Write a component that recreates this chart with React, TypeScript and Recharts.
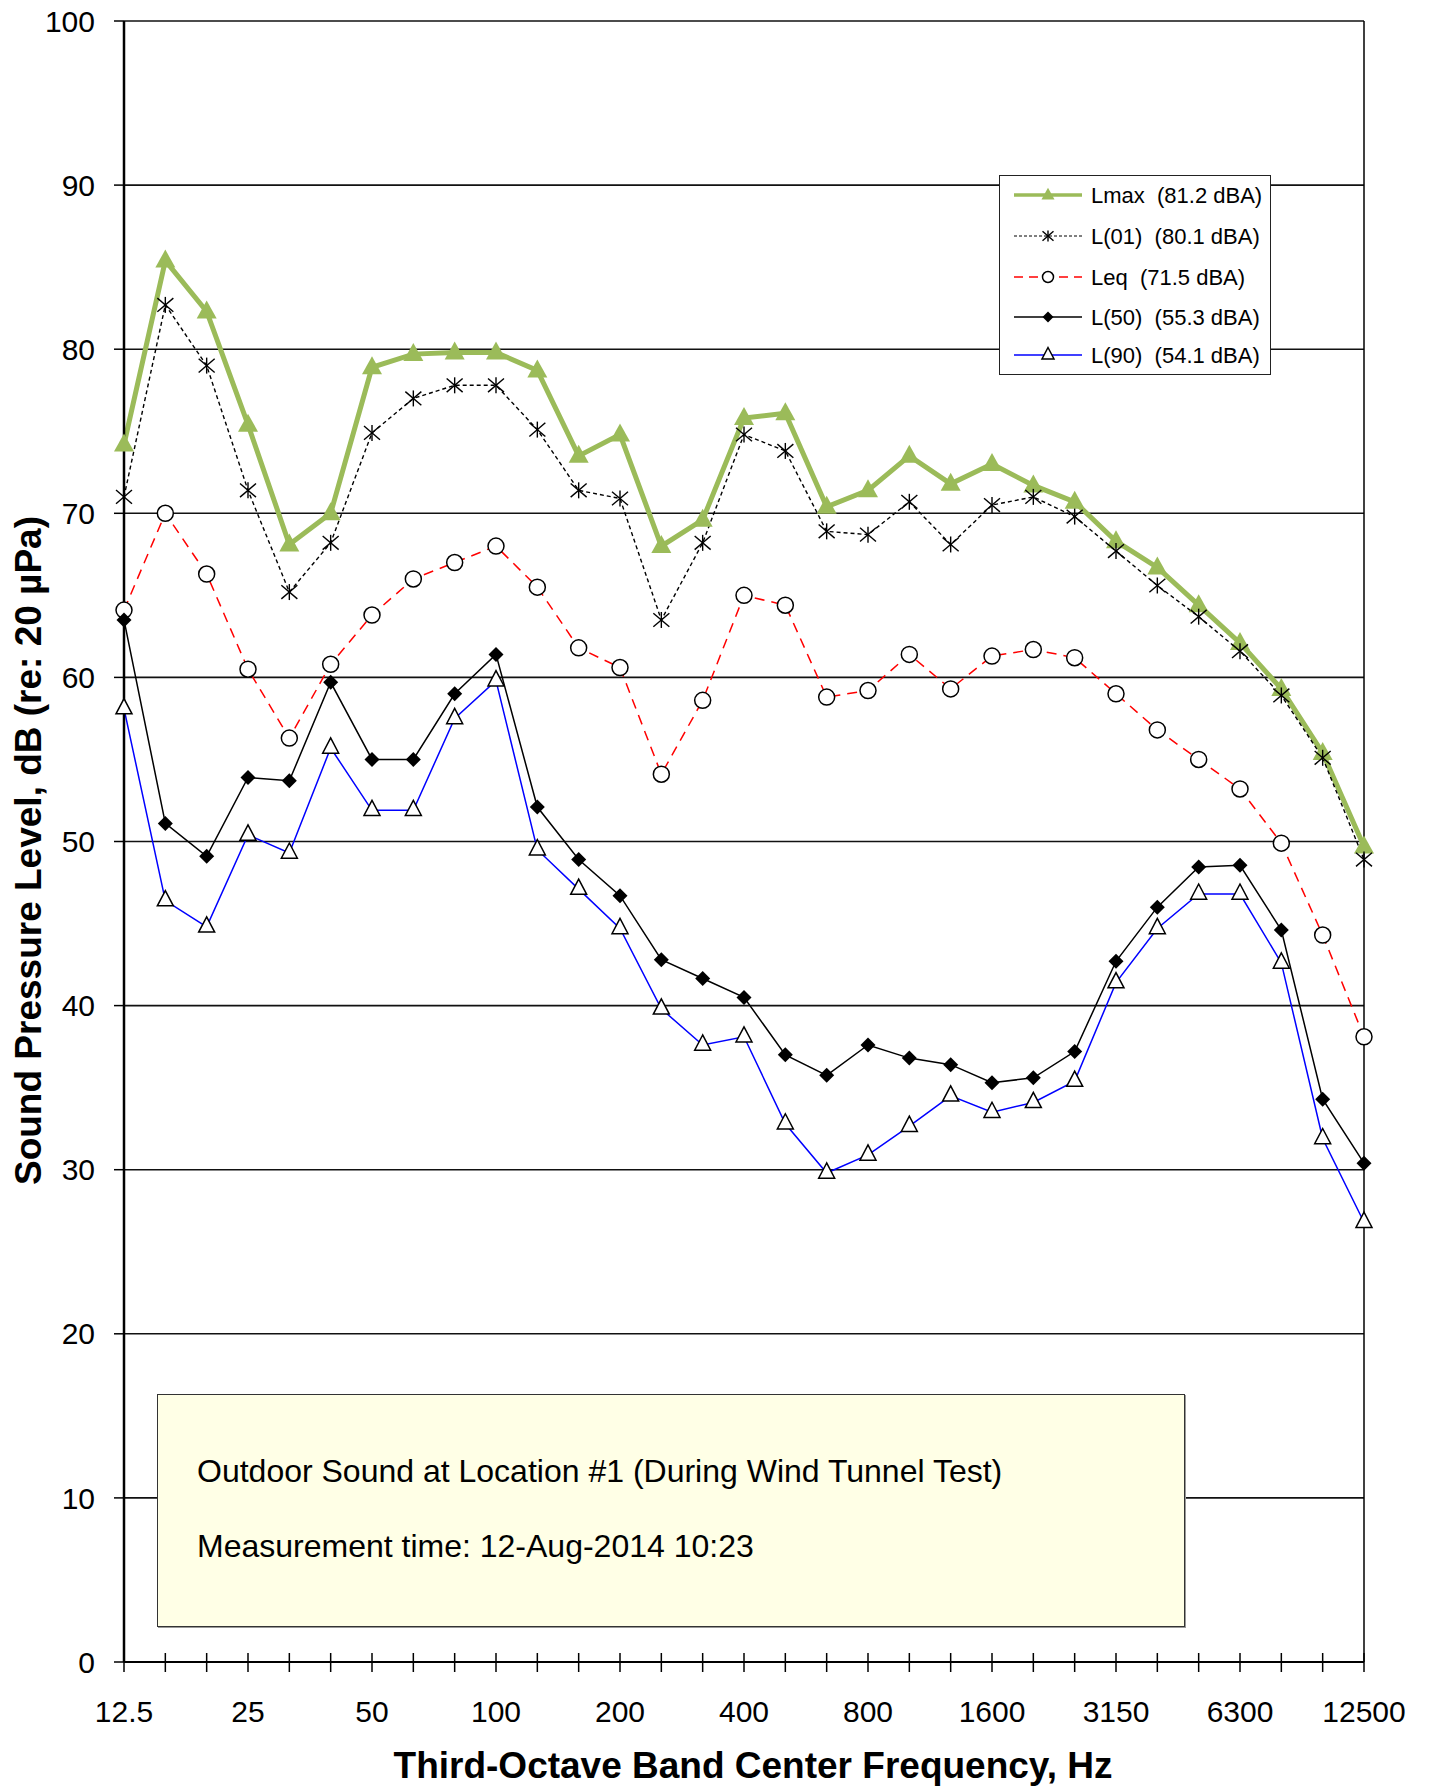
import React from "react";
import { LineChart, Line, XAxis, YAxis, CartesianGrid, ReferenceLine, Legend } from "recharts";

const FONT = '"Liberation Sans", Arial, Helvetica, sans-serif';

const frequencies = ["12.5", "16", "20", "25", "31.5", "40", "50", "63", "80", "100", "125", "160", "200", "250", "315", "400", "500", "630", "800", "1000", "1250", "1600", "2000", "2500", "3150", "4000", "5000", "6300", "8000", "10000", "12500"];
const xTickLabels = ["12.5", "25", "50", "100", "200", "400", "800", "1600", "3150", "6300", "12500"];
const yTicks = [0, 10, 20, 30, 40, 50, 60, 70, 80, 90, 100];

const lmax = [74.2, 85.4, 82.3, 75.4, 68.1, 70.0, 78.9, 79.7, 79.8, 79.8, 78.7, 73.5, 74.8, 68.0, 69.6, 75.8, 76.1, 70.4, 71.4, 73.5, 71.8, 73.0, 71.7, 70.7, 68.3, 66.7, 64.4, 62.1, 59.3, 55.4, 49.7];
const l01 = [71.0, 82.7, 79.0, 71.4, 65.2, 68.2, 74.9, 77.0, 77.8, 77.8, 75.1, 71.4, 70.9, 63.5, 68.2, 74.8, 73.8, 68.9, 68.7, 70.7, 68.1, 70.5, 71.0, 69.8, 67.7, 65.6, 63.7, 61.6, 58.9, 55.1, 48.9];
const leq = [64.1, 70.0, 66.3, 60.5, 56.3, 60.8, 63.8, 66.0, 67.0, 68.0, 65.5, 61.8, 60.6, 54.1, 58.6, 65.0, 64.4, 58.8, 59.2, 61.4, 59.3, 61.3, 61.7, 61.2, 59.0, 56.8, 55.0, 53.2, 49.9, 44.3, 38.1];
const l50 = [63.5, 51.1, 49.1, 53.9, 53.7, 59.7, 55.0, 55.0, 59.0, 61.4, 52.1, 48.9, 46.7, 42.8, 41.65, 40.5, 37.0, 35.75, 37.6, 36.8, 36.4, 35.3, 35.6, 37.2, 42.7, 46.0, 48.45, 48.55, 44.6, 34.3, 30.4];
const l90 = [58.1, 46.4, 44.8, 50.4, 49.3, 55.7, 51.9, 51.9, 57.5, 59.8, 49.5, 47.1, 44.7, 39.8, 37.6, 38.1, 32.8, 29.8, 30.9, 32.65, 34.5, 33.5, 34.1, 35.4, 41.4, 44.7, 46.8, 46.8, 42.6, 31.9, 26.8];

const legendLabels = [
  "Lmax  (81.2 dBA)",
  "L(01)  (80.1 dBA)",
  "Leq  (71.5 dBA)",
  "L(50)  (55.3 dBA)",
  "L(90)  (54.1 dBA)",
];
const noteLines = [
  "Outdoor Sound at Location #1 (During Wind Tunnel Test)",
  "Measurement time: 12-Aug-2014 10:23",
];
const yAxisTitle = "Sound Pressure Level, dB (re: 20 µPa)";
const xAxisTitle = "Third-Octave Band Center Frequency, Hz";

const GREEN = "#9BBB59";
const RED = "#FF0000";
const BLUE = "#0000FF";

const data = frequencies.map((f, i) => ({
  f,
  lmax: lmax[i],
  l01: l01[i],
  leq: leq[i],
  l50: l50[i],
  l90: l90[i],
}));

// marker shapes
const triFilled = (cx: number, cy: number, s: number, key?: string) => (
  <polygon key={key} points={`${cx},${cy - 1.1 * s} ${cx - s},${cy + 0.7 * s} ${cx + s},${cy + 0.7 * s}`} fill={GREEN} />
);
const asterisk = (cx: number, cy: number, s: number, key?: string) => (
  <g key={key} stroke="#000" strokeWidth={1.4}>
    <line x1={cx - s} y1={cy - s * 0.85} x2={cx + s} y2={cy + s * 0.85} />
    <line x1={cx - s} y1={cy + s * 0.85} x2={cx + s} y2={cy - s * 0.85} />
    <line x1={cx} y1={cy - s} x2={cx} y2={cy + s} />
  </g>
);
const circle = (cx: number, cy: number, r: number, key?: string) => (
  <circle key={key} cx={cx} cy={cy} r={r} fill="#fff" stroke="#000" strokeWidth={1.5} />
);
const diamond = (cx: number, cy: number, s: number, key?: string) => (
  <polygon key={key} points={`${cx},${cy - s} ${cx + s},${cy} ${cx},${cy + s} ${cx - s},${cy}`} fill="#000" />
);
const triOpen = (cx: number, cy: number, s: number, key?: string) => (
  <polygon key={key} points={`${cx},${cy - 1.25 * s} ${cx - s},${cy + 0.65 * s} ${cx + s},${cy + 0.65 * s}`} fill="#fff" stroke="#000" strokeWidth={1.5} />
);

const mkDot = (fn: (cx: number, cy: number, s: number, key?: string) => React.ReactElement, s: number, name: string) =>
  (p: any) => {
    const { cx, cy, index } = p;
    if (cx == null || cy == null) return <g key={`${name}-${index}`} />;
    return fn(cx, cy, s, `${name}-${index}`);
  };

const XTick = (p: any) => {
  const { x, y, payload } = p;
  const show = xTickLabels.includes(payload.value);
  return (
    <g>
      <line x1={x} x2={x} y1={y - 9} y2={y + 10} stroke="#000" strokeWidth={1.5} />
      {show && (
        <text x={x} y={y + 60} textAnchor="middle" fontSize={30} fontFamily={FONT} fill="#000">
          {payload.value}
        </text>
      )}
    </g>
  );
};

const LegendBox = () => {
  const rows = [19, 60, 101, 141, 179];
  const lx1 = 14, lx2 = 82, mx = 48, tx = 91;
  return (
    <div style={{ width: 272, height: 200, boxSizing: "border-box", border: "1.5px solid #222", background: "#fff" }}>
      <svg width={269} height={197} style={{ display: "block" }}>
        <line x1={lx1} x2={lx2} y1={rows[0]} y2={rows[0]} stroke={GREEN} strokeWidth={3.5} />
        {triFilled(mx, rows[0], 6.5)}
        <line x1={lx1} x2={lx2} y1={rows[1]} y2={rows[1]} stroke="#000" strokeWidth={1} strokeDasharray="3 2" />
        {asterisk(mx, rows[1], 5.5)}
        <line x1={lx1} x2={lx2} y1={rows[2]} y2={rows[2]} stroke={RED} strokeWidth={1.5} strokeDasharray="9 6" />
        {circle(mx, rows[2], 5.5)}
        <line x1={lx1} x2={lx2} y1={rows[3]} y2={rows[3]} stroke="#000" strokeWidth={1.5} />
        {diamond(mx, rows[3], 5.5)}
        <line x1={lx1} x2={lx2} y1={rows[4]} y2={rows[4]} stroke={BLUE} strokeWidth={1.5} />
        {triOpen(mx, rows[4], 6)}
        {legendLabels.map((t, i) => (
          <text key={t} x={tx} y={rows[i] + 8} fontSize={22} fontFamily={FONT} fill="#000" xmlSpace="preserve" style={{ whiteSpace: "pre" }}>
            {t}
          </text>
        ))}
      </svg>
    </div>
  );
};

const YTitle = (p: any) => {
  const vb = p.viewBox || { y: 21, height: 1641 };
  const cy = vb.y + vb.height / 2 + 9;
  return (
    <text x={41} y={cy} transform={`rotate(-90, 41, ${cy})`} textAnchor="middle" fontSize={37} fontWeight="bold" fontFamily={FONT} fill="#000">
      {yAxisTitle}
    </text>
  );
};

const XTitle = (p: any) => {
  const vb = p.viewBox || { x: 124, width: 1240, y: 1662 };
  const cx = vb.x + vb.width / 2 + 9;
  return (
    <text x={cx} y={vb.y + 116} textAnchor="middle" fontSize={37} fontWeight="bold" fontFamily={FONT} fill="#000">
      {xAxisTitle}
    </text>
  );
};

export default function App() {
  return (
    <div style={{ position: "absolute", left: 0, top: 0, width: 1429, height: 1788, background: "#fff" }}>
      <LineChart width={1429} height={1788} data={data} margin={{ top: 21, right: 65, bottom: 0, left: 0 }}>
        <CartesianGrid vertical={false} stroke="#111" strokeWidth={1.6} />
        <XAxis
          dataKey="f"
          type="category"
          interval={0}
          height={126}
          tickSize={0}
          tickMargin={0}
          tickLine={false}
          tick={<XTick />}
          axisLine={{ stroke: "#000", strokeWidth: 2 }}
          label={<XTitle />}
        />
        <YAxis
          domain={[0, 100]}
          ticks={yTicks}
          width={124}
          tickSize={10}
          tickMargin={19}
          interval={0}
          tick={{ fontSize: 30, fill: "#000", fontFamily: FONT }}
          tickLine={{ stroke: "#000", strokeWidth: 1.5 }}
          axisLine={{ stroke: "#000", strokeWidth: 2.5 }}
          label={<YTitle />}
        />
        <ReferenceLine x="12500" stroke="#000" strokeWidth={1.5} />
        <Legend layout="vertical" align="center" verticalAlign="middle" wrapperStyle={{ left: 999, top: 175, width: 272, height: 200 }} content={() => <LegendBox />} />
        <Line type="linear" dataKey="lmax" stroke={GREEN} strokeWidth={5} dot={mkDot(triFilled, 10, "lmax")} activeDot={false} isAnimationActive={false} />
        <Line type="linear" dataKey="l01" stroke="#000" strokeWidth={1.4} strokeDasharray="4 3" dot={mkDot(asterisk, 8, "l01")} activeDot={false} isAnimationActive={false} />
        <Line type="linear" dataKey="leq" stroke={RED} strokeWidth={1.5} strokeDasharray="10 7" dot={mkDot(circle, 8, "leq")} activeDot={false} isAnimationActive={false} />
        <Line type="linear" dataKey="l50" stroke="#000" strokeWidth={1.5} dot={mkDot(diamond, 7.5, "l50")} activeDot={false} isAnimationActive={false} />
        <Line type="linear" dataKey="l90" stroke={BLUE} strokeWidth={1.5} dot={mkDot(triOpen, 8, "l90")} activeDot={false} isAnimationActive={false} />
      </LineChart>
      <div
        style={{
          position: "absolute",
          left: 157,
          top: 1394,
          width: 1028,
          height: 233,
          boxSizing: "border-box",
          background: "#FFFFE6",
          border: "1.5px solid #333",
          boxShadow: "1px 1px 0 #999",
        }}
      >
        <svg width={1025} height={230} style={{ display: "block" }}>
          {noteLines.map((t, i) => (
            <text key={t} x={39} y={87 + i * 75} fontSize={32} fontFamily={FONT} fill="#000">
              {t}
            </text>
          ))}
        </svg>
      </div>
    </div>
  );
}
